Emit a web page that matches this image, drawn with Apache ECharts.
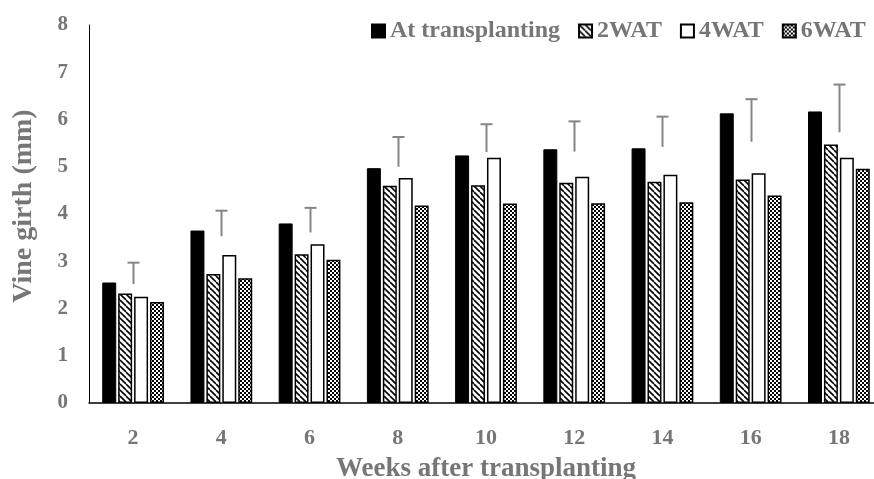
<!DOCTYPE html>
<html>
<head>
<meta charset="utf-8">
<script src="https://cdn.jsdelivr.net/npm/echarts@6/dist/echarts.min.js"></script>
<style>
html,body{margin:0;padding:0;background:#fff;}
#chart{width:874px;height:479px;}
</style>
</head>
<body>
<div id="chart"></div>
<script>
const categories = ['2', '4', '6', '8', '10', '12', '14', '16', '18'];
const atTransplanting = [2.55, 3.65, 3.80, 4.97, 5.24, 5.37, 5.39, 6.13, 6.17];
const wat2 = [2.32, 2.73, 3.15, 4.60, 4.61, 4.66, 4.68, 4.73, 5.47];
const wat4 = [2.25, 3.13, 3.36, 4.76, 5.19, 4.79, 4.83, 4.86, 5.19];
const wat6 = [2.14, 2.64, 3.03, 4.18, 4.22, 4.23, 4.25, 4.39, 4.96];
const errLow = [2.52, 3.53, 3.61, 5.00, 5.31, 5.32, 5.42, 5.53, 5.73];
const errHigh = [2.97, 4.07, 4.13, 5.63, 5.90, 5.96, 6.06, 6.43, 6.74];
const yTicks = [0, 1, 2, 3, 4, 5, 6, 7, 8];

function stripeTile() {
  const s = 6;
  const c = document.createElement('canvas');
  c.width = s; c.height = s;
  const g = c.getContext('2d');
  g.fillStyle = '#fff'; g.fillRect(0, 0, s, s);
  g.strokeStyle = '#000'; g.lineWidth = 1.6;
  for (const x of [-s, 0, s]) {
    g.beginPath(); g.moveTo(x, 0); g.lineTo(x + s, s); g.stroke();
  }
  return c;
}
function checkTile() {
  const s = 4;
  const c = document.createElement('canvas');
  c.width = s; c.height = s;
  const g = c.getContext('2d');
  g.fillStyle = '#fff'; g.fillRect(0, 0, s, s);
  g.fillStyle = '#000';
  g.fillRect(0, 0, 2, 2); g.fillRect(2, 2, 2, 2);
  return c;
}

const gray = '#767676';
const font = 'Liberation Serif';
const chart = echarts.init(document.getElementById('chart'));

const barBase = { type: 'bar', barCategoryGap: '30%', barGap: '14%' };

chart.setOption({
  animation: false,
  backgroundColor: '#fff',
  textStyle: { fontFamily: font },
  grid: { left: 89, top: 25, width: 794, height: 378, containLabel: false, outerBoundsMode: 'none' },
  legend: {
    data: ['At transplanting', '2WAT', '4WAT', '6WAT'],
    left: 366, top: 14,
    itemWidth: 13, itemHeight: 13, itemGap: 18,
    icon: 'rect',
    textStyle: { color: gray, fontSize: 24, fontWeight: 'bold', fontFamily: font }
  },
  xAxis: {
    type: 'category',
    data: categories,
    name: 'Weeks after transplanting',
    nameLocation: 'middle',
    nameGap: 53,
    nameTextStyle: { color: gray, fontSize: 27, fontWeight: 'bold', fontFamily: font },
    axisLine: { show: true, lineStyle: { color: '#000', width: 1.5 } },
    axisTick: { show: false },
    axisLabel: { color: gray, fontSize: 22, fontWeight: 'bold', fontFamily: font, margin: 24 },
    splitLine: { show: false }
  },
  yAxis: {
    type: 'value',
    min: 0, max: 8, interval: 1,
    name: 'Vine girth (mm)',
    nameLocation: 'middle',
    nameGap: 51,
    nameTextStyle: { color: gray, fontSize: 28, fontWeight: 'bold', fontFamily: font, padding: [0, 0, 0, 16] },
    axisLine: { show: true, lineStyle: { color: '#000', width: 1 } },
    axisTick: { show: false },
    axisLabel: {
      color: gray, fontSize: 21, fontWeight: 'bold', fontFamily: font, margin: 21,
      formatter: v => (yTicks.indexOf(v) >= 0 ? String(v) : '')
    },
    splitLine: { show: false }
  },
  series: [
    Object.assign({}, barBase, {
      name: 'At transplanting', data: atTransplanting,
      itemStyle: { color: '#000', borderColor: '#000', borderWidth: 1 }
    }),
    Object.assign({}, barBase, {
      name: '2WAT', data: wat2,
      itemStyle: { color: { image: stripeTile(), repeat: 'repeat' }, borderColor: '#000', borderWidth: 1.5 }
    }),
    Object.assign({}, barBase, {
      name: '4WAT', data: wat4,
      itemStyle: { color: '#fff', borderColor: '#000', borderWidth: 1.5 }
    }),
    Object.assign({}, barBase, {
      name: '6WAT', data: wat6,
      itemStyle: { color: { image: checkTile(), repeat: 'repeat' }, borderColor: '#000', borderWidth: 1.5 }
    }),
    {
      type: 'custom',
      name: 'err',
      z: 5,
      data: categories.map((c, i) => [i, errLow[i], errHigh[i]]),
      renderItem: function (params, api) {
        const lo = api.coord([api.value(0), api.value(1)]);
        const hi = api.coord([api.value(0), api.value(2)]);
        const x = Math.round(lo[0]) + 0.5;
        const hw = 6;
        return {
          type: 'group',
          children: [
            { type: 'line', shape: { x1: x, y1: lo[1], x2: x, y2: hi[1] }, style: { stroke: '#858585', lineWidth: 2 } },
            { type: 'line', shape: { x1: x - hw, y1: hi[1], x2: x + hw, y2: hi[1] }, style: { stroke: '#858585', lineWidth: 2 } }
          ]
        };
      }
    }
  ]
});
</script>
</body>
</html>
